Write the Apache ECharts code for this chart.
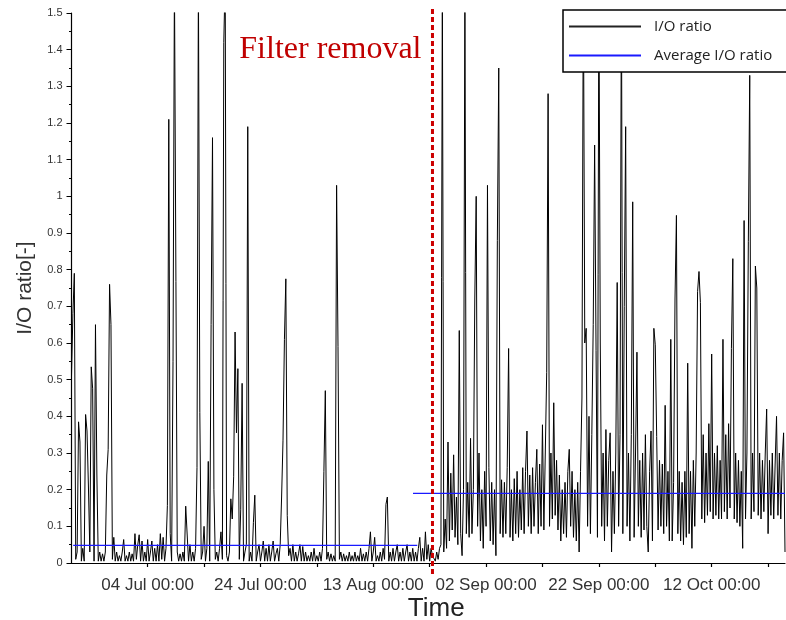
<!DOCTYPE html>
<html>
<head>
<meta charset="utf-8">
<script src="https://cdn.jsdelivr.net/npm/echarts/dist/echarts.min.js"></script>
<style>
html,body{margin:0;padding:0;background:#fff;}
#chart{width:786px;height:620px;}
</style>
</head>
<body>
<div id="chart"></div>
<script>
// ---- data (x in days relative to 04 Jul 00:00) ----
const dayStart = -13.75;
const dayStep = 0.25;
const axisMinDay = -13.5;
const axisMaxDay = 113;
const filterRemovalDay = 50.5;

const tickLabels = ["04 Jul 00:00", "24 Jul 00:00", "13 Aug 00:00", "02 Sep 00:00", "22 Sep 00:00", "12 Oct 00:00"];

// I/O ratio before filter removal
const ioBefore = [
  0.08, 0.51, 0.68, 0.79, 0.01, 0.03, 0.385, 0.33, 0.005, 0.04,
  0.005, 0.405, 0.36, 0.21, 0.03, 0.535, 0.475, 0.005, 0.65, 0.24,
  0.005, 0.03, 0.005, 0.025, 0.005, 0.03, 0.24, 0.31, 0.76, 0.65,
  0.01, 0.07, 0.005, 0.03, 0.005, 0.02, 0.005, 0.03, 0.064, 0.005,
  0.02, 0.005, 0.03, 0.005, 0.025, 0.005, 0.08, 0.01, 0.05, 0.077,
  0.005, 0.06, 0.005, 0.03, 0.005, 0.064, 0.005, 0.03, 0.06, 0.005,
  0.04, 0.005, 0.05, 0.005, 0.08, 0.01, 0.07, 0.005, 0.04, 0.157,
  1.21, 0.08, 0.005, 0.55, 1.6, 1.6, 0.03, 0.005, 0.025, 0.005,
  0.03, 0.005, 0.155, 0.15, 0.005, 0.05, 0.005, 0.03, 0.005, 0.04,
  0.26, 1.6, 0.41, 0.01, 0.03, 0.1, 0.005, 0.04, 0.277, 0.005,
  0.65, 1.16, 0.2, 0.01, 0.03, 0.005, 0.04, 0.085, 0.01, 1.42,
  1.6, 0.02, 0.005, 0.03, 0.175, 0.12, 0.235, 0.63, 0.355, 0.53,
  0.01, 0.145, 0.49, 0.005, 0.03, 0.05, 1.19, 0.005, 0.03, 0.005,
  0.11, 0.185, 0.005, 0.03, 0.05, 0.005, 0.03, 0.06, 0.005, 0.04,
  0.005, 0.05, 0.005, 0.03, 0.06, 0.005, 0.025, 0.04, 0.005, 0.05,
  0.18, 0.335, 0.61, 0.775, 0.13, 0.02, 0.04, 0.005, 0.05, 0.005,
  0.03, 0.005, 0.025, 0.05, 0.005, 0.045, 0.005, 0.03, 0.005, 0.02,
  0.005, 0.03, 0.005, 0.04, 0.005, 0.02, 0.005, 0.03, 0.005, 0.04,
  0.25, 0.47, 0.01, 0.03, 0.005, 0.025, 0.005, 0.02, 0.005, 1.03,
  0.59, 0.01, 0.03, 0.005, 0.025, 0.005, 0.02, 0.005, 0.03, 0.005,
  0.02, 0.005, 0.03, 0.005, 0.02, 0.005, 0.04, 0.005, 0.025, 0.005,
  0.03, 0.005, 0.04, 0.085, 0.005, 0.03, 0.07, 0.005, 0.02, 0.005,
  0.03, 0.005, 0.04, 0.01, 0.16, 0.18, 0.005, 0.03, 0.005, 0.04,
  0.005, 0.03, 0.05, 0.005, 0.03, 0.005, 0.04, 0.005, 0.03, 0.05,
  0.005, 0.03, 0.005, 0.04, 0.005, 0.03, 0.005, 0.04, 0.07, 0.005,
  0.04, 0.005, 0.085, 0.01, 0.05, 0.005, 0.04, 0.02
];

// I/O ratio after filter removal
const ioAfter = [
  0.02, 0.005, 0.03, 0.01, 0.04, 0.05, 1.6, 0.03, 0.12, 0.04,
  0.33, 0.06, 0.245, 0.09, 0.295, 0.07, 0.18, 0.05, 0.634, 0.08,
  0.02, 0.2, 1.6, 0.08, 0.22, 0.07, 0.34, 0.08, 0.2, 0.72,
  1.0, 0.1, 0.3, 0.06, 0.2, 0.04, 0.25, 0.1, 1.03, 0.26,
  0.06, 0.22, 0.05, 0.2, 0.02, 0.88, 1.35, 0.08, 0.227, 0.07,
  0.22, 0.08, 0.26, 0.585, 0.07, 0.2, 0.06, 0.23, 0.08, 0.25,
  0.07, 0.2, 0.09, 0.26, 0.08, 0.25, 0.36, 0.1, 0.24, 0.08,
  0.26, 0.1, 0.22, 0.31, 0.08, 0.27, 0.1, 0.377, 0.09, 0.3,
  0.52, 1.28, 0.1, 0.3, 0.12, 0.437, 0.13, 0.28, 0.09, 0.24,
  0.06, 0.2, 0.08, 0.22, 0.07, 0.25, 0.31, 0.1, 0.25, 0.07,
  0.2, 0.06, 0.22, 0.03, 0.25, 0.45, 1.6, 0.6, 0.64, 0.1,
  0.4, 0.08, 0.35, 0.65, 1.14, 0.58, 0.07, 1.6, 0.6, 0.1,
  0.3, 0.06, 0.364, 0.1, 0.28, 0.355, 0.03, 0.25, 0.08, 0.3,
  0.765, 0.1, 0.35, 1.6, 0.08, 0.7, 1.19, 0.1, 0.3, 0.06,
  0.35, 0.985, 0.07, 0.3, 0.575, 0.1, 0.28, 0.07, 0.3, 0.09,
  0.35, 0.1, 0.03, 0.25, 0.36, 0.06, 0.64, 0.595, 0.345, 0.09,
  0.28, 0.1, 0.27, 0.08, 0.43, 0.1, 0.25, 0.06, 0.61, 0.06,
  0.22, 0.72, 0.948, 0.08, 0.25, 0.06, 0.22, 0.05, 0.25, 0.07,
  0.545, 0.08, 0.25, 0.04, 0.28, 0.1, 0.3, 0.74, 0.795, 0.71,
  0.12, 0.35, 0.11, 0.3, 0.13, 0.38, 0.14, 0.57, 0.12, 0.3,
  0.13, 0.32, 0.12, 0.28, 0.12, 0.61, 0.14, 0.35, 0.12, 0.38,
  0.15, 0.585, 0.83, 0.12, 0.3, 0.11, 0.28, 0.1, 0.25, 0.04,
  0.934, 0.12, 0.3, 0.876, 1.33, 0.12, 0.3, 0.14, 0.81, 0.75,
  0.13, 0.3, 0.12, 0.28, 0.14, 0.3, 0.42, 0.08, 0.28, 0.13,
  0.3, 0.12, 0.27, 0.4, 0.13, 0.3, 0.12, 0.28, 0.355, 0.03
];

// Average I/O ratio for the two periods
const avgValues = [0.048, 0.19];
const avgSpans = [[-13.2, 47.8], [47.05, 113]];

// ---- build ----
const ioRatio = ioBefore.concat(ioAfter);
const ioData = ioRatio.map((v, i) => [dayStart + i * dayStep, v]);
const avgData = [];
avgValues.forEach((v, k) => {
  if (k > 0) avgData.push([avgSpans[k][0], '-']);
  avgData.push([avgSpans[k][0], v]);
  avgData.push([avgSpans[k][1], v]);
});

const chart = echarts.init(document.getElementById('chart'), null, {renderer: 'canvas'});
const GRID_TOP = 13, GRID_BOTTOM = 57, GRID_RIGHT = 1;

const option = {
  animation: false,
  backgroundColor: '#fff',
  grid: [
    {left: 71.5, right: GRID_RIGHT, top: GRID_TOP, bottom: GRID_BOTTOM, containLabel: false, outerBoundsMode: 'none'},
    {left: 147.6, right: GRID_RIGHT, top: GRID_TOP, bottom: GRID_BOTTOM, containLabel: false, outerBoundsMode: 'none'}
  ],
  xAxis: [
    {
      type: 'value', gridIndex: 0, min: axisMinDay, max: axisMaxDay,
      axisLine: {show: true, onZero: false, lineStyle: {color: '#000', width: 1.2}},
      axisTick: {show: false}, axisLabel: {show: false}, splitLine: {show: false},
      name: 'Time', nameLocation: 'middle', nameGap: 33,
      nameTextStyle: {fontFamily: 'Liberation Sans', fontSize: 26, color: '#222', padding: [0, 0, 0, 16]}
    },
    {
      type: 'value', gridIndex: 1, min: 0, max: axisMaxDay, interval: 10,
      axisLine: {show: false, onZero: false},
      axisTick: {show: true, length: 4, lineStyle: {color: '#000', width: 1.2}},
      axisLabel: {
        show: true, margin: 14, showMaxLabel: false,
        fontFamily: 'Liberation Sans', fontSize: 17, color: '#333',
        formatter: v => (Math.abs(v % 20) < 1e-6 && tickLabels[v / 20] !== undefined) ? tickLabels[v / 20] : ''
      },
      splitLine: {show: false}
    }
  ],
  yAxis: [
    {
      type: 'value', gridIndex: 0, min: 0, max: 1.5, interval: 0.1,
      axisLine: {show: true, onZero: false, lineStyle: {color: '#000', width: 1.2}},
      axisTick: {show: true, length: 5, lineStyle: {color: '#000', width: 1}},
      minorTick: {show: true, splitNumber: 2, length: 2.5, lineStyle: {color: '#000', width: 1}},
      axisLabel: {
        margin: 9, fontFamily: 'Liberation Sans', fontSize: 11, color: '#333',
        formatter: v => String(Math.round(v * 10) / 10)
      },
      splitLine: {show: false},
      name: 'I/O ratio[-]', nameLocation: 'middle', nameGap: 36, nameRotate: 90,
      nameTextStyle: {fontFamily: 'Liberation Sans', fontSize: 21, color: '#333'}
    },
    {
      type: 'value', gridIndex: 1, min: 0, max: 1.5, show: false,
      axisLine: {show: false, onZero: false}, axisTick: {show: false}, axisLabel: {show: false},
      splitLine: {show: false}, minorTick: {show: false}
    }
  ],
  legend: {
    left: 563, top: 10,
    orient: 'vertical',
    backgroundColor: '#fff',
    borderColor: '#000', borderWidth: 1.5, borderRadius: 0,
    padding: [8, 30, 8, 6],
    itemWidth: 72, itemHeight: 2, itemGap: 12,
    textStyle: {fontFamily: 'Open Sans', fontSize: 15, color: '#222', padding: [0, 0, 0, 8], lineHeight: 17},
    data: [
      {name: 'I/O ratio', icon: 'rect', itemStyle: {color: '#222'}},
      {name: 'Average I/O ratio', icon: 'rect', itemStyle: {color: '#1a1aff'}}
    ]
  },
  series: [
    {
      name: 'I/O ratio', type: 'line', xAxisIndex: 0, yAxisIndex: 0,
      data: ioData, showSymbol: false, symbol: 'none', clip: true,
      lineStyle: {color: '#000', width: 1}, itemStyle: {color: '#000'},
      z: 2
    },
    {
      name: 'Average I/O ratio', type: 'line', xAxisIndex: 0, yAxisIndex: 0,
      data: avgData, showSymbol: false, symbol: 'none', clip: true, connectNulls: false,
      lineStyle: {color: '#1a1aff', width: 1.2}, itemStyle: {color: '#1a1aff'},
      z: 3
    }
  ]
};
chart.setOption(option);

// filter removal marker: dashed line and label, positioned via axis conversion
const fx = chart.convertToPixel({xAxisIndex: 0}, filterRemovalDay);
chart.setOption({
  graphic: [
    {
      type: 'line', z: 10,
      shape: {x1: fx, y1: 9, x2: fx, y2: 575},
      style: {stroke: '#cc0000', lineWidth: 3, lineDash: [5, 3]}
    },
    {
      type: 'text', z: 10,
      x: fx - 11, y: 66,
      style: {
        text: 'Filter removal', fill: '#c00000',
        font: '32px "Liberation Serif"', textAlign: 'right', textVerticalAlign: 'bottom'
      }
    }
  ]
});
</script>
</body>
</html>
